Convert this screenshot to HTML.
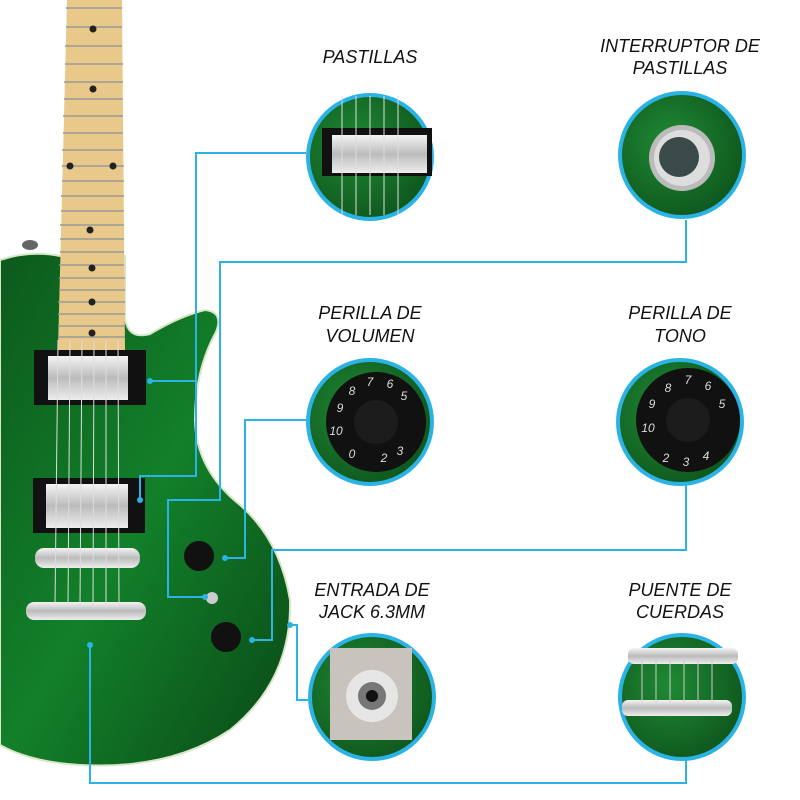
<!DOCTYPE html>
<html><head><meta charset="utf-8"><style>
html,body{margin:0;padding:0;background:#fff;}
svg{display:block}
text{font-family:"Liberation Sans",sans-serif;font-style:italic;font-size:18px;fill:#111;text-anchor:middle;}
</style></head><body>
<svg width="800" height="800" viewBox="0 0 800 800" xmlns="http://www.w3.org/2000/svg">
<defs>
<radialGradient id="g" cx="0.4" cy="0.4" r="0.8"><stop offset="0" stop-color="#1f8a34"/><stop offset="1" stop-color="#0b4a18"/></radialGradient>
<linearGradient id="body" x1="0" y1="0" x2="1" y2="1"><stop offset="0" stop-color="#0c5a1c"/><stop offset="0.5" stop-color="#12802a"/><stop offset="1" stop-color="#0a4816"/></linearGradient>
<linearGradient id="chrome" x1="0" y1="0" x2="0" y2="1"><stop offset="0" stop-color="#f4f4f4"/><stop offset="0.5" stop-color="#bbb"/><stop offset="1" stop-color="#eee"/></linearGradient>
</defs>
<!-- body -->
<path d="M0,260 Q30,250 60,256 L125,256 L125,318 Q128,340 150,334 Q180,316 205,310 Q224,312 216,332 Q195,370 195,420 Q196,470 240,505 Q280,540 290,600 Q292,680 230,730 Q170,770 80,765 Q30,762 0,745 Z" fill="url(#body)" stroke="#d9e6c8" stroke-width="2"/>
<ellipse cx="30" cy="245" rx="8" ry="5" fill="#666"/>
<!-- neck -->
<path d="M67,0 L122,0 L125,350 L58,350 Z" fill="#e8c98a"/>
<g stroke="#999" stroke-width="1.5">
<line x1="66" y1="8" x2="122" y2="8"/><line x1="66" y1="27" x2="122" y2="27"/><line x1="65" y1="46" x2="122" y2="46"/><line x1="65" y1="64" x2="123" y2="64"/><line x1="64" y1="82" x2="123" y2="82"/><line x1="64" y1="99" x2="123" y2="99"/><line x1="63" y1="116" x2="123" y2="116"/><line x1="63" y1="133" x2="123" y2="133"/><line x1="62" y1="150" x2="123" y2="150"/><line x1="62" y1="166" x2="124" y2="166"/><line x1="62" y1="181" x2="124" y2="181"/><line x1="61" y1="196" x2="124" y2="196"/><line x1="61" y1="211" x2="124" y2="211"/><line x1="60" y1="225" x2="124" y2="225"/><line x1="60" y1="239" x2="124" y2="239"/><line x1="60" y1="252" x2="124" y2="252"/><line x1="59" y1="265" x2="124" y2="265"/><line x1="59" y1="278" x2="125" y2="278"/><line x1="59" y1="290" x2="125" y2="290"/><line x1="58" y1="302" x2="125" y2="302"/><line x1="58" y1="314" x2="125" y2="314"/><line x1="58" y1="326" x2="125" y2="326"/><line x1="58" y1="337" x2="125" y2="337"/>
</g>
<g fill="#222"><circle cx="93" cy="29" r="3.5"/><circle cx="93" cy="89" r="3.5"/><circle cx="70" cy="166" r="3.5"/><circle cx="113" cy="166" r="3.5"/><circle cx="90" cy="230" r="3.5"/><circle cx="92" cy="268" r="3.5"/><circle cx="92" cy="302" r="3.5"/><circle cx="92" cy="333" r="3.5"/></g>
<!-- pickups -->
<rect x="34" y="350" width="112" height="55" fill="#111"/>
<rect x="48" y="356" width="80" height="44" fill="url(#chrome)"/>
<rect x="33" y="478" width="112" height="55" fill="#111"/>
<rect x="46" y="484" width="82" height="44" fill="url(#chrome)"/>
<!-- bridge -->
<rect x="35" y="548" width="105" height="20" rx="9" fill="url(#chrome)"/>
<rect x="26" y="602" width="120" height="18" rx="8" fill="url(#chrome)"/>
<!-- strings -->
<g stroke="#ddd" stroke-width="1"><line x1="58" y1="340" x2="55" y2="605"/><line x1="70" y1="340" x2="68" y2="605"/><line x1="82" y1="340" x2="80" y2="605"/><line x1="94" y1="340" x2="93" y2="605"/><line x1="106" y1="340" x2="106" y2="605"/><line x1="118" y1="340" x2="119" y2="605"/></g>
<!-- knobs -->
<circle cx="199" cy="556" r="15" fill="#111"/><circle cx="226" cy="637" r="15" fill="#111"/>
<circle cx="212" cy="598" r="6" fill="#ccc"/>
<!-- connectors -->
<g stroke="#2bb3e6" stroke-width="2" fill="none">
<polyline points="306,153 196,153 196,476 140,476 140,500"/>
<line x1="196" y1="381" x2="150" y2="381"/>
<polyline points="686,220 686,262 220,262 220,500 168,500 168,597 205,597"/>
<polyline points="306,420 245,420 245,558 225,558"/>
<polyline points="686,485 686,550 272,550 272,640 252,640"/>
<polyline points="290,625 297,625 297,700 312,700"/>
<polyline points="90,645 90,783 686,783 686,760"/>
</g>
<g fill="#2bb3e6"><circle cx="150" cy="381" r="3"/><circle cx="140" cy="500" r="3"/><circle cx="225" cy="558" r="3"/><circle cx="252" cy="640" r="3"/><circle cx="290" cy="625" r="3"/><circle cx="90" cy="645" r="3"/><circle cx="205" cy="597" r="3"/></g>
<!-- detail circles -->
<g stroke="#2bb3e6" stroke-width="4">
<circle cx="370" cy="157" r="62" fill="url(#g)"/>
<circle cx="682" cy="155" r="62" fill="url(#g)"/>
<circle cx="370" cy="422" r="62" fill="url(#g)"/>
<circle cx="680" cy="422" r="62" fill="url(#g)"/>
<circle cx="372" cy="697" r="62" fill="url(#g)"/>
<circle cx="682" cy="697" r="62" fill="url(#g)"/>
</g>
<!-- pastillas detail -->
<rect x="322" y="128" width="110" height="48" fill="#111"/><rect x="332" y="135" width="95" height="38" fill="url(#chrome)"/>
<g stroke="#ddd"><line x1="342" y1="96" x2="342" y2="215"/><line x1="356" y1="96" x2="356" y2="215"/><line x1="370" y1="96" x2="370" y2="215"/><line x1="384" y1="96" x2="384" y2="215"/><line x1="398" y1="96" x2="398" y2="215"/></g>
<!-- switch -->
<circle cx="682" cy="158" r="33" fill="#bbb"/><circle cx="682" cy="158" r="28" fill="#ddd"/><circle cx="679" cy="157" r="20" fill="#3a4a48"/>
<!-- knobs detail -->
<circle cx="376" cy="422" r="50" fill="#111"/><circle cx="376" cy="422" r="22" fill="#1c1c1c"/>
<circle cx="688" cy="420" r="52" fill="#111"/><circle cx="688" cy="420" r="22" fill="#1c1c1c"/>
<g>
<text x="336" y="435" style="fill:#ddd;font-size:12px">10</text><text x="340" y="412" style="fill:#ddd;font-size:12px">9</text><text x="352" y="395" style="fill:#ddd;font-size:12px">8</text><text x="370" y="386" style="fill:#ddd;font-size:12px">7</text><text x="390" y="388" style="fill:#ddd;font-size:12px">6</text><text x="404" y="400" style="fill:#ddd;font-size:12px">5</text><text x="352" y="458" style="fill:#ddd;font-size:12px">0</text><text x="384" y="462" style="fill:#ddd;font-size:12px">2</text><text x="400" y="455" style="fill:#ddd;font-size:12px">3</text>
<text x="648" y="432" style="fill:#ddd;font-size:12px">10</text><text x="652" y="408" style="fill:#ddd;font-size:12px">9</text><text x="668" y="392" style="fill:#ddd;font-size:12px">8</text><text x="688" y="384" style="fill:#ddd;font-size:12px">7</text><text x="708" y="390" style="fill:#ddd;font-size:12px">6</text><text x="722" y="408" style="fill:#ddd;font-size:12px">5</text><text x="666" y="462" style="fill:#ddd;font-size:12px">2</text><text x="686" y="466" style="fill:#ddd;font-size:12px">3</text><text x="706" y="460" style="fill:#ddd;font-size:12px">4</text>
</g>
<!-- jack detail -->
<rect x="330" y="648" width="82" height="92" fill="#c9c3bd"/><circle cx="372" cy="696" r="26" fill="#e6e6e6"/><circle cx="372" cy="696" r="14" fill="#777"/><circle cx="372" cy="696" r="6" fill="#111"/>
<!-- bridge detail -->
<rect x="628" y="648" width="110" height="16" rx="6" fill="url(#chrome)"/>
<rect x="622" y="700" width="110" height="16" rx="6" fill="url(#chrome)"/>
<g stroke="#ccc"><line x1="642" y1="660" x2="642" y2="702"/><line x1="656" y1="660" x2="656" y2="702"/><line x1="670" y1="660" x2="670" y2="702"/><line x1="684" y1="660" x2="684" y2="702"/><line x1="698" y1="660" x2="698" y2="702"/><line x1="712" y1="660" x2="712" y2="702"/></g>
<!-- labels -->
<text x="370" y="63">PASTILLAS</text>
<text x="680" y="52">INTERRUPTOR DE</text><text x="680" y="74">PASTILLAS</text>
<text x="370" y="319">PERILLA DE</text><text x="370" y="342">VOLUMEN</text>
<text x="680" y="319">PERILLA DE</text><text x="680" y="342">TONO</text>
<text x="372" y="596">ENTRADA DE</text><text x="372" y="618">JACK 6.3MM</text>
<text x="680" y="596">PUENTE DE</text><text x="680" y="618">CUERDAS</text>
</svg>
</body></html>
